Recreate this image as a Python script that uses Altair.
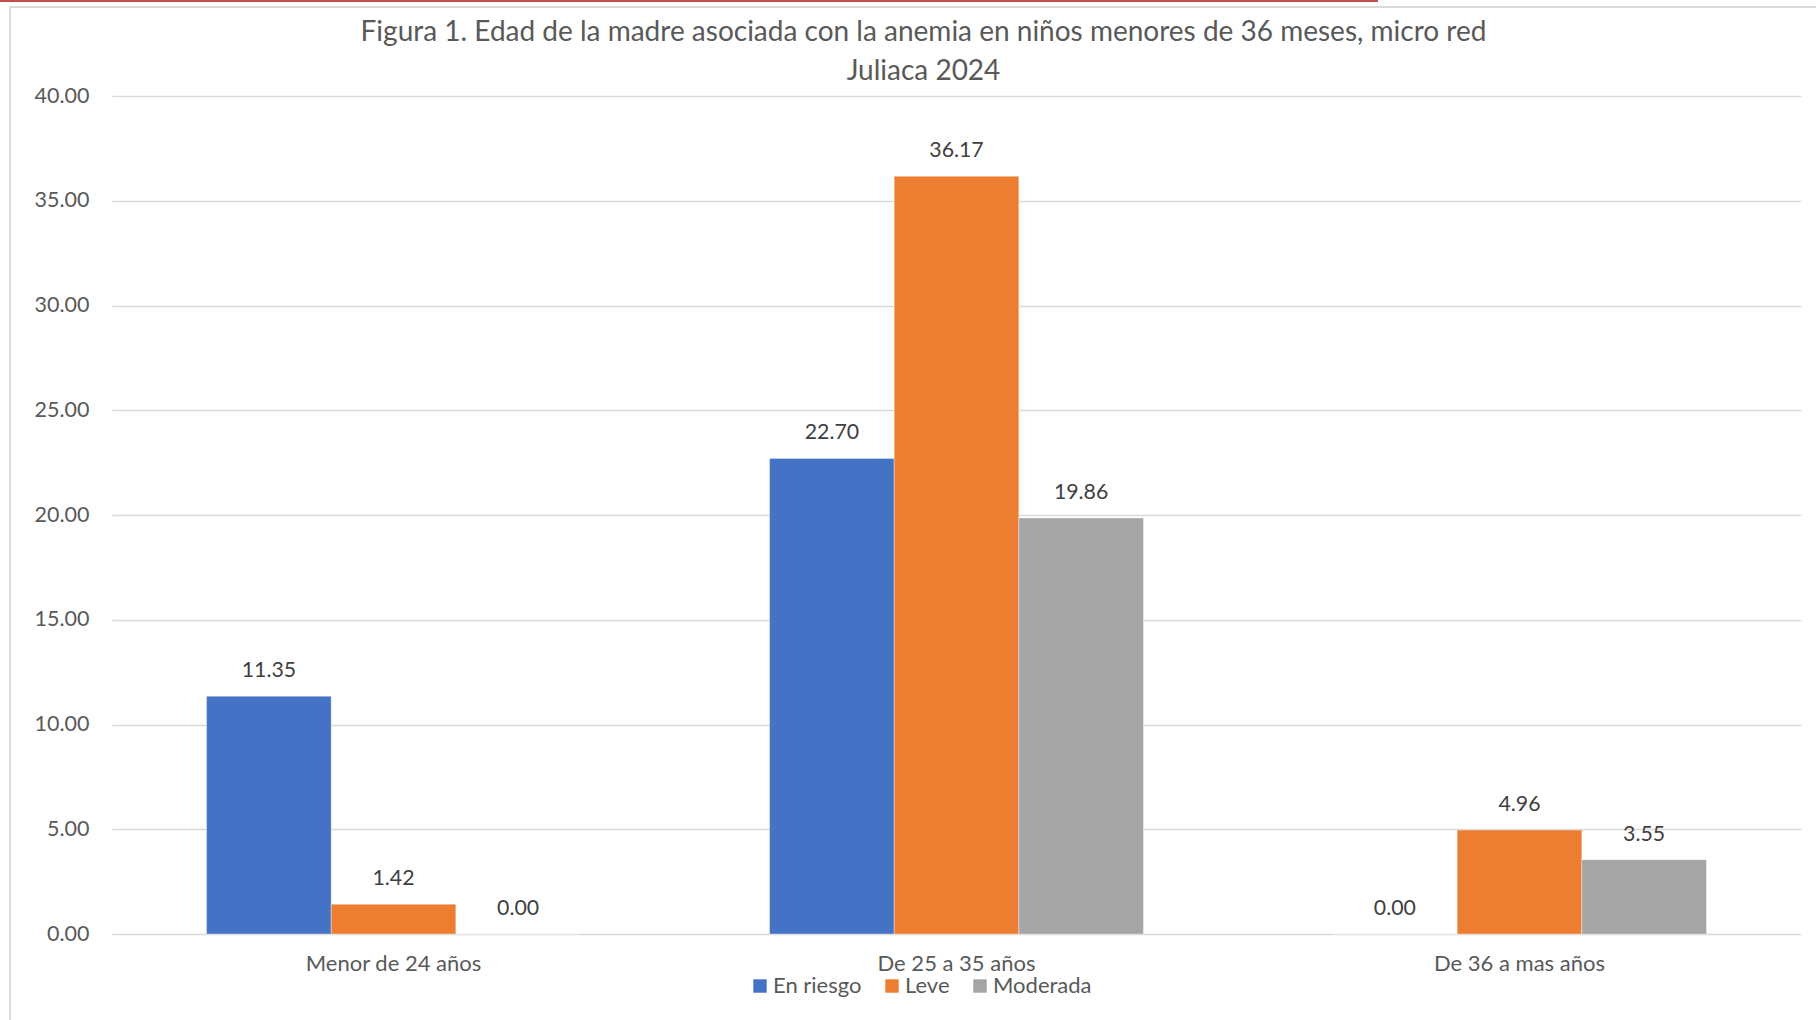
import altair as alt
import pandas as pd

categories = ["Menor de 24 años", "De 25 a 35 años", "De 36 a mas años"]
series = ["En riesgo", "Leve", "Moderada"]
en_riesgo = [11.35, 22.70, 0.00]
leve = [1.42, 36.17, 4.96]
moderada = [0.00, 19.86, 3.55]
colors = ["#4472C4", "#ED7D31", "#A5A5A5"]
y_ticks = [0, 5, 10, 15, 20, 25, 30, 35, 40]

rows = []
for s, vals in zip(series, [en_riesgo, leve, moderada]):
    for c, v in zip(categories, vals):
        rows.append({"cat": c, "serie": s, "val": v})
df = pd.DataFrame(rows)

FONT = "Lato"
W, H = 1689, 838
PL, PT = 112, 96

x_enc = alt.X("cat:N", sort=categories, title=None,
              scale=alt.Scale(paddingInner=0.336, paddingOuter=0.168),
              axis=alt.Axis(labelAngle=0, domain=False, ticks=False, labelPadding=19,
                            labelFontSize=22, labelColor="#595959", labelFont=FONT, grid=False))
y_enc = alt.Y("val:Q", title=None,
              scale=alt.Scale(domain=[0, 40], nice=False),
              axis=alt.Axis(values=y_ticks, format=".2f", domain=False, ticks=False,
                            labelPadding=23, labelFontSize=21.5, labelColor="#595959", labelFont=FONT,
                            grid=True, gridColor="#D9D9D9", gridWidth=1.5))
xoff = alt.XOffset("serie:N", sort=series, scale=alt.Scale(paddingInner=0, paddingOuter=0))

bars = alt.Chart(df).mark_bar(stroke="white", strokeWidth=0.6, strokeOpacity=0.6).encode(
    x=x_enc, y=y_enc, xOffset=xoff,
    color=alt.Color("serie:N", sort=series,
                    scale=alt.Scale(domain=series, range=colors),
                    legend=alt.Legend(title=None, orient="none", direction="horizontal",
                                      legendX=637, legendY=879, symbolType="square",
                                      symbolSize=180, symbolStrokeWidth=0, labelFontSize=22,
                                      labelColor="#595959", labelFont=FONT, labelOffset=2,
                                      columnPadding=19)),
)

labels = alt.Chart(df).mark_text(baseline="middle", dy=-25, fontSize=21.3, color="#404040", font=FONT).encode(
    x=alt.X("cat:N", sort=categories), y="val:Q", xOffset=xoff,
    text=alt.Text("val:Q", format=".2f"),
)

frame_left = alt.Chart(df).mark_rule(color="#D9D9D9", strokeWidth=2).encode(
    x=alt.value(10 - PL), y=alt.value(7 - PT), y2=alt.value(1020 - PT))
frame_top = alt.Chart(df).mark_rule(color="#D9D9D9", strokeWidth=2).encode(
    x=alt.value(10 - PL), x2=alt.value(1816 - PL), y=alt.value(7 - PT))
red_top = alt.Chart(df).mark_rule(color="#C0504D", strokeWidth=2, opacity=0.7).encode(
    x=alt.value(0 - PL), x2=alt.value(1378 - PL), y=alt.value(1 - PT))

chart = alt.layer(bars, labels, frame_left, frame_top, red_top).properties(
    width=W, height=H,
    background="white",
    autosize=alt.AutoSizeParams(type="none"),
    padding={"left": PL, "top": PT, "right": 1816 - PL - W, "bottom": 1020 - PT - H},
    title=alt.Title(
        ["Figura 1. Edad de la madre asociada con la anemia en niños menores de 36 meses, micro red",
         "Juliaca 2024"],
        fontSize=28, font=FONT, fontWeight="normal", color="#595959", frame="group",
        anchor="middle", dx=-33, lineHeight=39, offset=-86),
).configure_view(strokeWidth=0, stroke="transparent")

chart.save("out.html", embed_options={"renderer": "svg", "actions": False})
